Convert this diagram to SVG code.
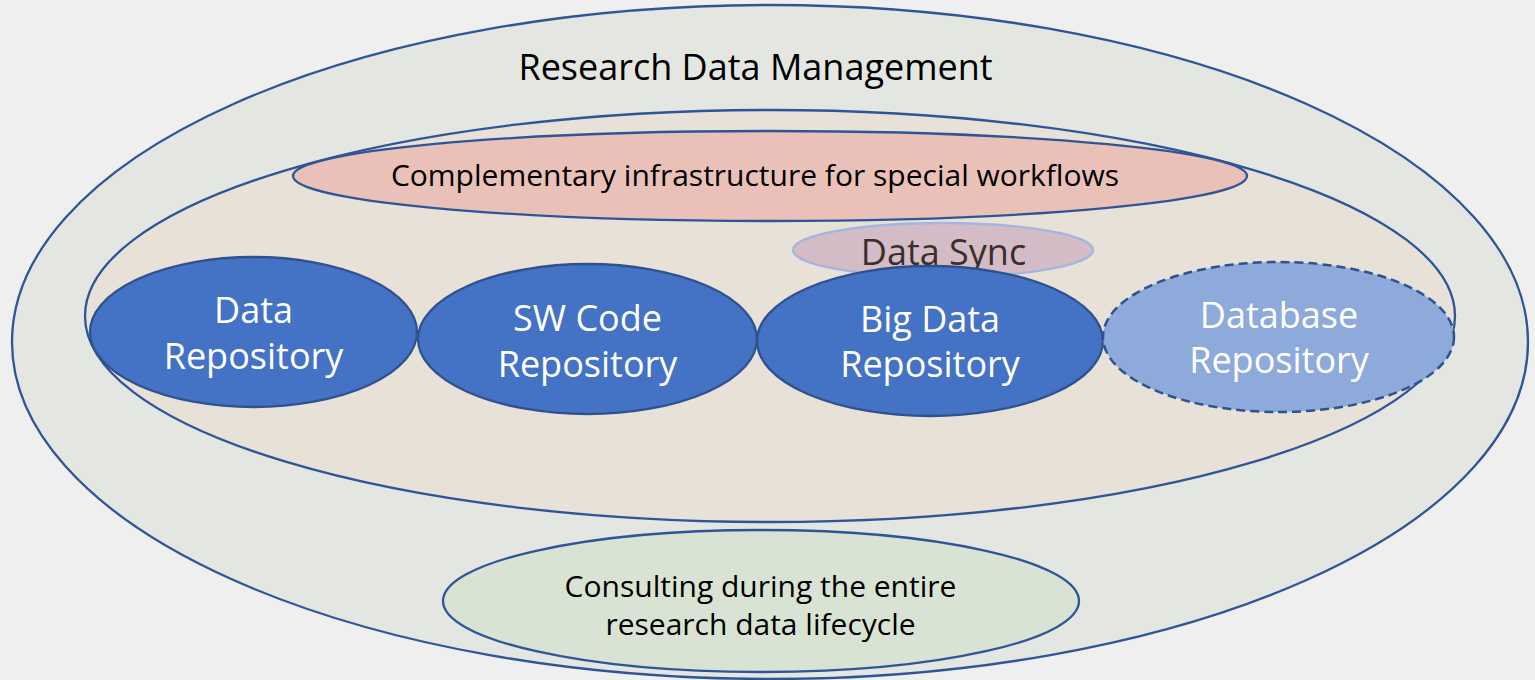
<svg xmlns="http://www.w3.org/2000/svg" width="1535" height="680" viewBox="0 0 1535 680">
<style>
text{font-family:"Open Sans","Noto Sans","DejaVu Sans",sans-serif;text-anchor:middle}
.ln{stroke:#2f5597;stroke-width:2.3}
.repo{fill:#4472c4;stroke:#2f528f;stroke-width:2.3}
.wt{fill:#ffffff;font-size:36px}
.bk{fill:#000000}
</style>
<rect x="0" y="0" width="1535" height="680" fill="#efefef"/>
<g id="rdm">
<ellipse class="ln" cx="770" cy="342" rx="758" ry="337" fill="#e4e6e1"/>
<text class="bk" x="755.5" y="80" font-size="36">Research Data Management</text>
</g>
<g id="infra">
<ellipse class="ln" cx="770" cy="316" rx="685" ry="206" fill="#e8e1d7"/>
</g>
<g id="complementary">
<ellipse class="ln" cx="770" cy="176" rx="477" ry="45" fill="#e9c1b8"/>
<text class="bk" x="755" y="186" font-size="30">Complementary infrastructure for special workflows</text>
</g>
<g id="consulting">
<ellipse class="ln" cx="761" cy="601" rx="318" ry="71" fill="#d9e3d3"/>
<text class="bk" x="760.5" y="597" font-size="30">Consulting during the entire</text>
<text class="bk" x="760.5" y="635" font-size="30">research data lifecycle</text>
</g>
<g id="datasync">
<ellipse cx="943" cy="250" rx="150" ry="27" fill="#d3bcc6" stroke="#a4b6df" stroke-width="2.3"/>
<text x="943.5" y="265" font-size="36" fill="#3a2e2a">Data Sync</text>
</g>
<g id="datarepo">
<ellipse class="repo" cx="253.5" cy="332" rx="163.5" ry="75"/>
<text class="wt" x="253.5" y="323">Data</text>
<text class="wt" x="253.5" y="369">Repository</text>
</g>
<g id="swcode">
<ellipse class="repo" cx="587.5" cy="339" rx="169.5" ry="75"/>
<text class="wt" x="587.5" y="331">SW Code</text>
<text class="wt" x="587.5" y="377">Repository</text>
</g>
<g id="bigdata">
<ellipse class="repo" cx="930" cy="341" rx="173" ry="75"/>
<text class="wt" x="930" y="332">Big Data</text>
<text class="wt" x="930" y="377">Repository</text>
</g>
<g id="database">
<ellipse cx="1278.5" cy="337" rx="175.5" ry="75" fill="#8eaadb" stroke="#2f528f" stroke-width="2.5" stroke-dasharray="9,5"/>
<text class="wt" x="1279" y="328">Database</text>
<text class="wt" x="1279" y="373">Repository</text>
</g>
<g id="connectors"></g>
</svg>
